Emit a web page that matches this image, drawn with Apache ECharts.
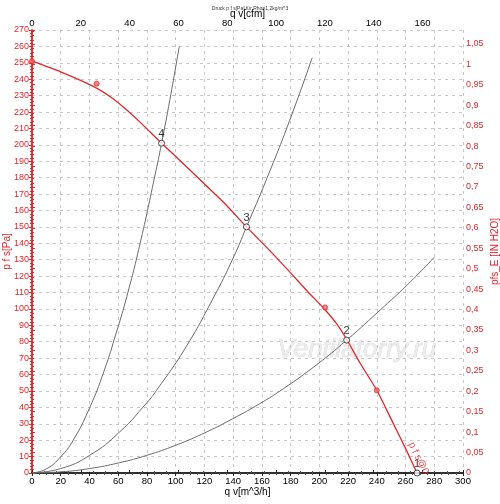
<!DOCTYPE html>
<html lang="de">
<head>
<meta charset="UTF-8">
<title>Druck p f s[Pa]</title>
<script src="https://cdn.jsdelivr.net/npm/echarts@6/dist/echarts.min.js"></script>
<style>
  html, body { margin: 0; padding: 0; background: #fff; }
  #main { width: 500px; height: 504px; }
</style>
</head>
<body>
<div id="main"></div>
<script>
// Kennlinie p f s (Pa) über q v (m^3/h)
var fanQ = [0, 20, 43, 55, 65, 75, 90.2, 103, 119, 135, 149.3, 165, 180, 192, 204, 212, 219, 228, 240, 251, 260, 268];
var fanP = [251, 244.5, 235.5, 229, 222, 214, 201, 190.5, 177, 163.5, 150, 136, 122, 110.5, 99.5, 91, 81.5, 67.5, 50.4, 31, 15, 0];

// Messpunkte (rote Punkte)
var measQ = [0, 45, 204, 240];
var measP = [251, 237.3, 100.9, 50.4];

// Anlagenkennlinien
var sys4Q = [0, 10, 20, 28.7, 40, 50, 59, 66, 75, 85.5, 90.2, 96, 102.5];
var sys4P = [0, 2.5, 9.9, 20, 39.5, 61.8, 86.5, 107.6, 139, 181, 201, 227.7, 260];
var sys3Q = [0, 20, 40, 61, 80, 86.7, 106.6, 125.8, 140, 149.3, 163, 179.4, 195];
var sys3P = [0, 2.7, 10.7, 25, 42.9, 50.4, 76, 106, 131, 150, 178.5, 215, 253];
var sys2Q = [0, 20, 40, 61, 80, 100, 121.5, 140, 158.6, 174.8, 198, 218.9, 244.4, 263.4, 280];
var sys2P = [0, 0.7, 2.7, 6.3, 10.8, 16.9, 25, 33.2, 42.3, 51.3, 65.9, 80.9, 101, 116.5, 131.5];

// Betriebspunkte 1..4
var opQ = [268, 219, 149.3, 90.2];
var opP = [0, 81, 150, 201];
var opLabels = ['1', '2', '3', '4'];

var PA_PER_INH2O = 249.089;
var M3H_PER_CFM = 1.699;

function pairs(xs, ys) {
    return xs.map(function (x, i) { return [x, ys[i]]; });
}

var red = '#e3262b';
var font = 'Arial, "Liberation Sans", sans-serif';

var chart = echarts.init(document.getElementById('main'));
chart.setOption({
    animation: false,
    backgroundColor: '#fff',
    title: {
        text: 'Druck p f s[Pa] für Rho=1,2kg/m^3',
        left: 'center',
        top: 1,
        textStyle: {fontSize: 5, fontWeight: 'normal', color: '#333', fontFamily: font}
    },
    grid: {left: 32, right: 37, top: 30, bottom: 31, containLabel: false, outerBoundsMode: 'none'},
    graphic: [{
        type: 'text',
        left: 277,
        top: 336,
        z: 0,
        silent: true,
        style: {
            text: 'Ventilatorry.ru',
            font: 'italic 26px ' + font,
            fill: '#ececec',
            stroke: '#d0d0d0',
            lineWidth: 0.6
        }
    }],
    xAxis: [
        {
            type: 'value',
            position: 'bottom',
            min: 0, max: 300, interval: 20,
            name: 'q v[m^3/h]',
            nameLocation: 'middle',
            nameGap: 14,
            nameMoveOverlap: false,
            nameTextStyle: {color: '#000', fontSize: 10, fontFamily: font},
            axisLine: {lineStyle: {color: '#222', width: 1.5}},
            axisTick: {show: true, length: 3, lineStyle: {color: '#222'}},
            minorTick: {show: true, splitNumber: 4, length: 2, lineStyle: {color: '#555'}},
            axisLabel: {color: '#000', fontSize: 9.5, margin: 3, fontFamily: font},
            splitLine: {show: true, lineStyle: {color: '#c8c8c8', type: [3, 4], width: 1}}
        },
        {
            type: 'value',
            position: 'top',
            min: 0, max: 300 / M3H_PER_CFM, interval: 20,
            name: 'q v[cfm]',
            nameLocation: 'middle',
            nameGap: 11,
            nameMoveOverlap: false,
            nameTextStyle: {color: '#000', fontSize: 10, fontFamily: font},
            axisLine: {lineStyle: {color: '#222', width: 1.5}},
            axisTick: {show: true, length: 3, lineStyle: {color: '#222'}},
            minorTick: {show: true, splitNumber: 4, length: 2, lineStyle: {color: '#555'}},
            axisLabel: {color: '#000', fontSize: 9.5, margin: 2, fontFamily: font, showMaxLabel: false},
            splitLine: {show: false}
        }
    ],
    yAxis: [
        {
            type: 'value',
            position: 'left',
            min: 0, max: 270, interval: 10,
            name: 'p f s[Pa]',
            nameLocation: 'middle',
            nameGap: 20,
            nameMoveOverlap: false,
            nameTextStyle: {color: red, fontSize: 10, fontFamily: font},
            axisLine: {lineStyle: {color: red, width: 1.5}},
            axisTick: {show: true, length: 3, lineStyle: {color: red}},
            minorTick: {show: true, splitNumber: 5, length: 2, lineStyle: {color: red}},
            axisLabel: {color: red, fontSize: 9, margin: 3, fontFamily: font},
            splitLine: {show: true, lineStyle: {color: '#c8c8c8', type: [3, 4], width: 1}}
        },
        {
            type: 'value',
            position: 'right',
            min: 0, max: 270 / PA_PER_INH2O, interval: 0.05,
            name: 'pfs_E [IN H2O]',
            nameLocation: 'middle',
            nameGap: 27,
            nameRotate: 90,
            nameMoveOverlap: false,
            nameTextStyle: {color: red, fontSize: 10, fontFamily: font},
            axisLine: {lineStyle: {color: red, width: 1.5}},
            axisTick: {show: true, length: 3, lineStyle: {color: red}},
            minorTick: {show: true, splitNumber: 5, length: 2, lineStyle: {color: red}},
            axisLabel: {
                color: red, fontSize: 9, margin: 3, fontFamily: font, showMaxLabel: false,
                formatter: function (v) { return String(+v.toFixed(2)).replace('.', ','); }
            },
            splitLine: {show: false}
        }
    ],
    series: [
        {
            name: 'Anlage 4', type: 'line', smooth: true, symbol: 'none', silent: true,
            data: pairs(sys4Q, sys4P),
            lineStyle: {color: '#6b6b6b', width: 1}
        },
        {
            name: 'Anlage 3', type: 'line', smooth: true, symbol: 'none', silent: true,
            data: pairs(sys3Q, sys3P),
            lineStyle: {color: '#6b6b6b', width: 1}
        },
        {
            name: 'Anlage 2', type: 'line', smooth: true, symbol: 'none', silent: true,
            data: pairs(sys2Q, sys2P),
            lineStyle: {color: '#6b6b6b', width: 1}
        },
        {
            name: 'p f s', type: 'line', smooth: 0.25, symbol: 'none', z: 4,
            data: pairs(fanQ, fanP),
            lineStyle: {color: red, width: 1.3}
        },
        {
            name: 'Messpunkte', type: 'scatter', z: 5,
            data: pairs(measQ, measP),
            symbolSize: 5,
            itemStyle: {color: '#f06a6a', borderColor: red, borderWidth: 1}
        },
        {
            name: 'Betriebspunkte', type: 'scatter', z: 6,
            data: pairs(opQ, opP).map(function (d, i) {
                return {value: d, label: {formatter: opLabels[i]}};
            }),
            symbol: 'circle', symbolSize: 6,
            itemStyle: {color: '#fff', borderColor: '#222', borderWidth: 1},
            label: {
                show: true, position: 'top', distance: 0,
                color: '#000', fontSize: 11, fontFamily: font
            }
        },
        {
            name: 'Kurvenname', type: 'scatter', z: 6, silent: true,
            data: [[269, 9]],
            symbolSize: 0,
            label: {
                show: true, position: 'inside', rotate: -64,
                formatter: 'p f s@0', color: red, fontSize: 10, fontFamily: font
            }
        }
    ]
});
</script>
</body>
</html>
